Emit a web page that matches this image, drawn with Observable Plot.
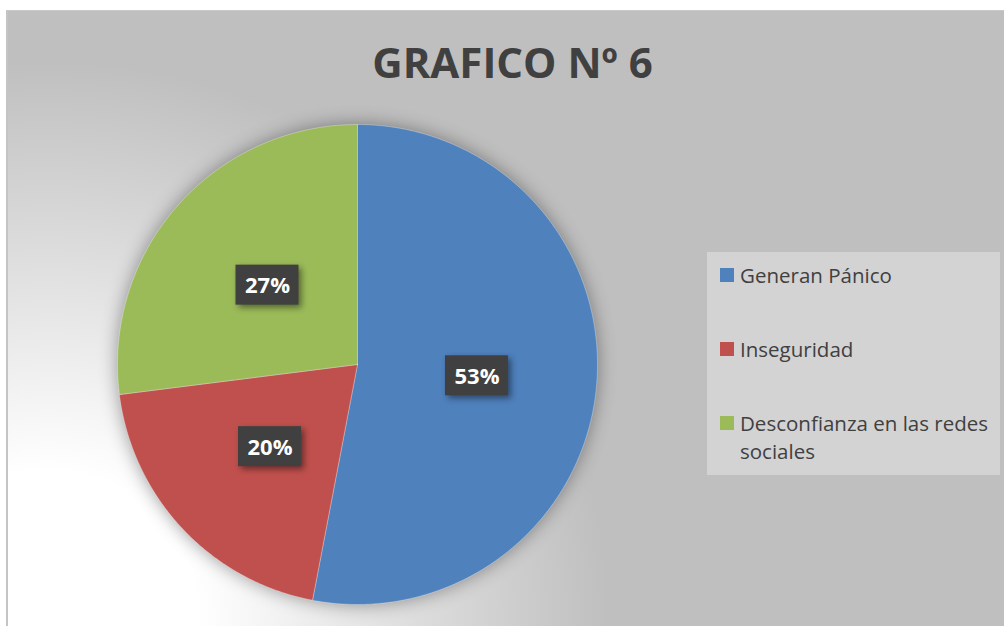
<!DOCTYPE html>
<html>
<head>
<meta charset="utf-8">
<script src="https://cdn.jsdelivr.net/npm/d3@7"></script>
<script src="https://cdn.jsdelivr.net/npm/@observablehq/plot@0.6"></script>
<style>
  html, body { margin: 0; padding: 0; background: #ffffff; }
  #chart { position: relative; width: 1004px; height: 626px; overflow: hidden; background: #ffffff; }
  #bg {
    position: absolute; left: 6px; top: 10px; width: 998px; height: 616px;
    box-sizing: border-box;
    border-left: 2px solid #c4c4c4; border-top: 1px solid #c9c9c9;
    background: radial-gradient(circle at 40px 610px, #ffffff 0px, #ffffff 150px, #bfbfbf 560px, #bfbfbf 100%);
  }
  #title {
    position: absolute; left: 0; top: 41px; width: 1025px; text-align: center;
    font-family: "Open Sans", sans-serif; font-weight: 700; font-size: 42px; line-height: 42px;
    color: #404040;
  }
  #plot { position: absolute; left: 0; top: 0; }
  #legend {
    position: absolute; left: 707px; top: 252px; width: 293px; height: 223px;
    background: #d3d3d3;
    font-family: "Open Sans", sans-serif; font-size: 20.5px; line-height: 28.5px; color: #404040;
  }
  .item { position: absolute; left: 13px; }
  .sw { position: absolute; left: 0; top: 7.2px; width: 14px; height: 14px; }
  .lbl { position: absolute; left: 20px; width: 262px; }
  g[aria-label="line"] { filter: drop-shadow(0px 0px 9px rgba(0,0,0,0.38)); }
  g[aria-label="rect"] { filter: drop-shadow(3px 3px 3px rgba(0,0,0,0.45)); }
</style>
</head>
<body>
<div id="chart">
  <div id="bg"></div>
  <div id="title">GRAFICO Nº 6</div>
  <div id="plot"></div>
  <div id="legend"></div>
</div>
<script>
// ---- data ----
const categories = ["Generan Pánico", "Inseguridad", "Desconfianza en las redes sociales"];
const values = [53, 20, 27];
const colors = ["#4f81bd", "#c0504d", "#9bbb59"];

const data = categories.map((name, i) => ({name, value: values[i]}));

// ---- pie geometry from data ----
const arcs = d3.pie().sort(null).value(d => d.value).startAngle(0).endAngle(2 * Math.PI)(data);

const slicePoints = [];
for (const a of arcs) {
  const name = a.data.name;
  slicePoints.push({name, x: 0, y: 0});
  const n = Math.max(2, Math.ceil((a.endAngle - a.startAngle) / (Math.PI / 360)));
  for (let k = 0; k <= n; k++) {
    const t = a.startAngle + (a.endAngle - a.startAngle) * k / n;
    slicePoints.push({name, x: Math.sin(t), y: Math.cos(t)});
  }
  slicePoints.push({name, x: 0, y: 0});
}

const labelRadius = 0.5;
const labels = arcs.map(a => {
  const m = (a.startAngle + a.endAngle) / 2;
  return {x: labelRadius * Math.sin(m), y: labelRadius * Math.cos(m), text: a.data.value + "%"};
});

// label box half-size in data units (radius = 240px)
const bw = 31.5 / 240, bh = 20 / 240;

const chart = Plot.plot({
  width: 1004,
  height: 626,
  marginLeft: 117,
  marginRight: 407,
  marginTop: 124,
  marginBottom: 22,
  style: "background: transparent; overflow: visible;",
  x: {domain: [-1, 1], axis: null},
  y: {domain: [-1, 1], axis: null},
  color: {type: "ordinal", domain: categories, range: colors},
  marks: [
    Plot.line(slicePoints, {x: "x", y: "y", z: "name", fill: "name", stroke: "#ffffff", strokeWidth: 0.6, strokeOpacity: 0.5, curve: "linear"}),
    Plot.rect(labels, {x1: d => d.x - bw, x2: d => d.x + bw, y1: d => d.y - bh, y2: d => d.y + bh, fill: "#404040"}),
    Plot.text(labels, {x: "x", y: "y", text: "text", fill: "#ffffff", fontSize: 22, fontWeight: "bold", fontFamily: "Open Sans, sans-serif", dy: 1})
  ]
});
document.getElementById("plot").appendChild(chart);

// ---- legend ----
const legend = document.getElementById("legend");
const itemTops = [8.8, 82.8, 156.8];
categories.forEach((c, i) => {
  const it = document.createElement("div");
  it.className = "item";
  it.style.top = itemTops[i] + "px";
  const sw = document.createElement("div");
  sw.className = "sw";
  sw.style.background = colors[i];
  const lb = document.createElement("div");
  lb.className = "lbl";
  lb.textContent = c;
  it.appendChild(sw);
  it.appendChild(lb);
  legend.appendChild(it);
});
</script>
</body>
</html>
